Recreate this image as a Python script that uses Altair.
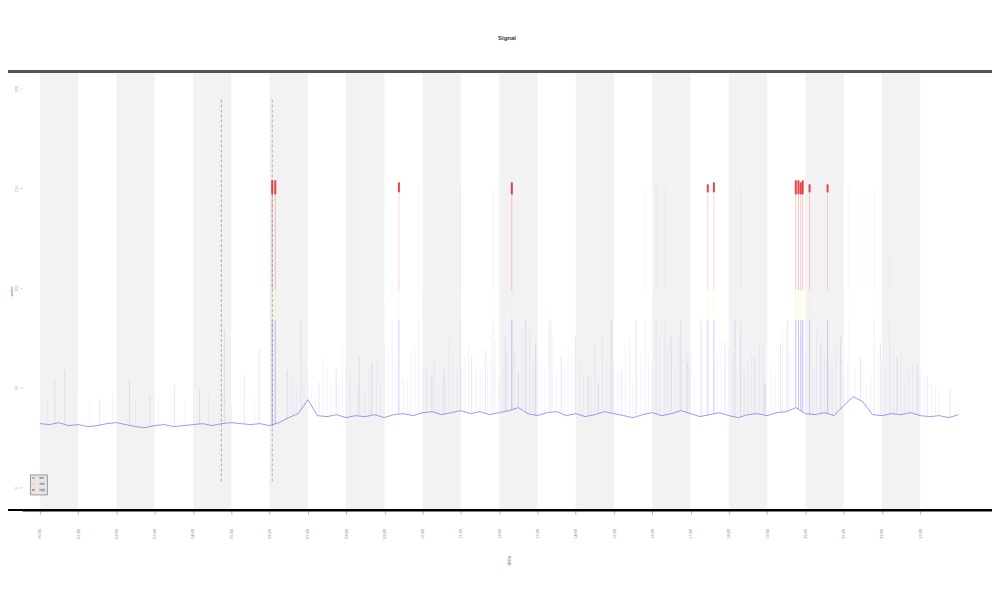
import altair as alt
import numpy as np
import pandas as pd

# ---- data ----
base_t = [i * 0.25 for i in range(97)]
base_v = [32.0, 31.5, 32.5, 31.0, 31.5, 30.5, 31.0, 32.0, 32.5, 31.5, 30.5, 30.0,
          31.0, 31.5, 30.5, 31.0, 31.5, 32.0, 31.0, 32.0, 32.5, 32.0, 31.5, 32.0,
          31.0, 32.5, 35.0, 37.0, 44.0, 36.0, 35.5, 36.5, 35.0, 36.0, 35.5, 36.5,
          35.0, 36.5, 37.0, 36.0, 37.5, 38.0, 36.5, 37.5, 38.5, 37.0, 38.0, 36.5,
          37.5, 38.5, 40.0, 37.0, 36.0, 37.5, 38.0, 36.0, 37.0, 35.5, 36.5, 38.0,
          37.0, 36.0, 35.0, 36.5, 37.5, 36.0, 37.0, 38.5, 37.0, 35.5, 36.5, 37.5,
          36.0, 35.0, 36.5, 37.0, 36.0, 37.5, 38.0, 40.0, 37.0, 36.5, 37.5, 36.0,
          41.0, 45.5, 43.0, 36.5, 36.0, 37.0, 36.5, 37.5, 36.0, 35.5, 36.0, 35.0,
          36.5]

spike_t = [0.39, 0.65, 1.56, 2.34, 2.87, 3.52, 4.17, 4.82, 5.34, 5.73,
           6.07, 6.15, 9.38, 12.33, 17.45, 17.61, 19.75, 19.82, 19.88, 19.93, 20.11, 20.58,
           9.90, 10.99, 11.85, 15.81, 16.10, 16.33, 18.31, 21.15, 21.80, 22.20,
           6.46, 6.82, 7.29, 7.74, 8.34, 8.67, 9.20, 10.24, 10.55, 11.28, 11.64, 12.16,
           12.50, 12.69, 12.95, 13.31, 13.36, 13.62, 13.99, 14.33, 14.59, 14.93, 15.19,
           15.58, 16.49, 16.75, 16.93, 17.27, 17.90, 18.16, 18.68, 18.94, 19.35, 19.54,
           20.40, 20.92, 21.44, 21.96, 22.40, 22.92, 23.18, 23.78]
spike_top = [54, 59, 44, 54, 46.5, 51.5, 49, 79, 56.5, 69,
             154, 154, 153, 153, 152, 153, 154, 154, 153, 154, 152, 152,
             152, 150, 150, 151, 152, 150, 150, 151, 150, 115,
             59, 89, 52.5, 59, 65.5, 62.5, 102.5, 55.5, 59, 65.5, 69, 75.5,
             57.5, 84, 72.5, 87.5, 92.5, 65.5, 75.5, 55.5, 52.5, 84, 59,
             84, 75.5, 84, 62.5, 87.5, 72.5, 84, 65.5, 52.5, 72.5, 84,
             72.5, 75.5, 65.5, 72.5, 65.5, 62.5, 55.5, 49]
spike_alpha = [0.3, 0.3, 0.3, 0.3, 0.3, 0.3, 0.3, 0.35, 0.3, 0.3,
               0.8, 0.8, 0.6, 0.8, 0.6, 0.6, 0.8, 0.8, 0.8, 0.8, 0.6, 0.6,
               0.25, 0.2, 0.2, 0.2, 0.2, 0.2, 0.2, 0.2, 0.2, 0.2,
               0.35, 0.25, 0.35, 0.35, 0.35, 0.35, 0.2, 0.35, 0.35, 0.35, 0.35, 0.35,
               0.45, 0.35, 0.35, 0.3, 0.25, 0.35, 0.35, 0.35, 0.4, 0.4, 0.35,
               0.35, 0.35, 0.35, 0.4, 0.35, 0.35, 0.35, 0.35, 0.4, 0.35, 0.35,
               0.35, 0.35, 0.35, 0.35, 0.35, 0.35, 0.35, 0.35]

cap_t = [6.07, 6.15, 9.38, 12.33, 17.45, 17.61, 19.75, 19.82, 19.88, 19.93, 20.11, 20.58]
cap_lo = [147, 147, 148, 147, 148, 148, 147, 147, 147, 147, 148, 148]
cap_hi = [154, 154, 153, 153, 152, 153, 154, 154, 153, 154, 152, 152]

haze_t = [6.6, 6.9, 7.1, 7.4, 7.6, 7.9, 8.1, 8.5, 8.8, 9.0, 9.5, 9.7, 10.1, 10.4,
          10.7, 10.9, 11.1, 11.4, 11.8, 12.0, 12.4, 12.8, 13.1, 13.5, 13.8, 14.1,
          14.4, 14.7, 15.0, 15.3, 15.5, 15.9, 16.2, 16.6, 16.9, 17.1, 17.4, 17.7,
          18.0, 18.4, 18.6, 18.8, 19.1, 19.4, 19.6, 19.9, 20.2, 20.5, 20.7, 21.0,
          21.3, 21.6, 21.9, 22.1, 22.3, 22.6, 22.8, 23.0, 23.3, 23.5,
          0.2, 0.9, 1.3, 1.9, 2.5, 3.1, 3.8, 4.4, 5.0, 5.6,
          6.7, 7.0, 7.2, 7.5, 7.8, 8.0, 8.3, 8.6, 8.9, 9.1, 9.3, 9.6, 9.8, 10.0,
          10.3, 10.6, 10.8, 11.0, 11.2, 11.5, 11.7, 11.9, 12.1, 12.2, 12.6, 12.9,
          13.0, 13.2, 13.4, 13.7, 13.9, 14.2, 14.5, 14.8, 15.1, 15.4, 15.7, 16.0,
          16.4, 16.7, 17.0, 17.3, 17.6, 17.8, 18.1, 18.3, 18.5, 18.9, 19.2, 19.5,
          19.7, 20.0, 20.3, 20.6, 20.8, 21.1, 21.7, 22.0, 22.5, 22.7, 23.1, 23.4]
haze_top = [55, 62, 48, 66, 52, 70, 58, 49, 63, 71, 55, 67, 60, 52, 74, 58, 66, 61,
            78, 55, 69, 81, 63, 58, 72, 64, 57, 77, 62, 70, 53, 66, 75, 60, 68, 57,
            79, 64, 70, 58, 66, 73, 61, 80, 69, 76, 58, 66, 62, 55, 60, 52, 66, 58,
            70, 54, 63, 58, 52, 49,
            44, 46, 42, 47, 43, 45, 44, 46, 42, 45,
            50, 57, 46, 60, 54, 63, 49, 58, 52, 67, 61, 54, 70, 58,
            64, 53, 68, 60, 72, 57, 66, 74, 60, 68, 79, 62,
            70, 58, 76, 61, 69, 55, 73, 64, 59, 75, 68, 62,
            71, 77, 66, 82, 60, 74, 67, 78, 63, 72, 58, 81,
            75, 68, 79, 64, 70, 62, 57, 63, 68, 59, 55, 50]

event_t = [4.74, 6.07]
event_lo = [3, 3]
event_hi = [195, 195]

band_start = [0, 2, 4, 6, 8, 10, 12, 14, 16, 18, 20, 22]
band_end = [1, 3, 5, 7, 9, 11, 13, 15, 17, 19, 21, 23]

tick_vals = list(range(24))
y_ticks = [0, 50, 100, 150, 200]

LOW, MID = 84, 99

# ---- tables ----
base_df = pd.DataFrame({"t": base_t, "v": base_v})
bands_df = pd.DataFrame({"t0": band_start, "t1": band_end})

rows = []
for t, top, a in zip(spike_t + haze_t, spike_top + haze_top,
                     spike_alpha + [0.16] * len(haze_t)):
    b = float(np.interp(t, base_t, base_v))
    rows.append({"t": t, "y0": b, "y1": min(top, LOW), "level": "low", "a": a})
    if top > LOW:
        rows.append({"t": t, "y0": LOW, "y1": min(top, MID), "level": "mid", "a": a * 0.45})
    if top > MID:
        rows.append({"t": t, "y0": MID, "y1": top, "level": "high", "a": a * 0.55})
seg_df = pd.DataFrame(rows)
cap_df = pd.DataFrame({"t": cap_t, "y0": cap_lo, "y1": cap_hi, "level": ["high"] * len(cap_t)})
event_df = pd.DataFrame({"t": event_t, "y0": event_lo, "y1": event_hi})

W, H = 973, 440
xs = alt.Scale(domain=[-0.469, 24.876], nice=False, zero=False)
ys = alt.Scale(domain=[-11.5, 208.5], nice=False, zero=False)
cscale = alt.Scale(domain=["low", "mid", "high"], range=["#7f7fff", "#f2e35a", "#e8262b"])

x_axis = alt.Axis(values=tick_vals, labelAngle=-90, labelFontSize=4, labelColor="#888",
                  labelPadding=14, tickSize=4, tickColor="#bbb", domainColor="#000",
                  domainWidth=1.5, grid=False, title="time", titleFontSize=5,
                  titleColor="#999", titleAngle=-90, titlePadding=22,
                  labelExpr="pad(toString(datum.value), 2, '0', 'left') + ':00'")
y_axis = alt.Axis(values=y_ticks, labelAngle=-90, labelFontSize=4, labelColor="#aaa",
                  tickSize=2, tickColor="#ccc", domain=False, grid=False, title="value",
                  titleFontSize=4, titleColor="#999", titlePadding=1, labelPadding=1)

bands = alt.Chart(bands_df).mark_rect(color="#f2f2f2").encode(
    x=alt.X("t0:Q", scale=xs, axis=x_axis), x2="t1:Q",
    y=alt.value(0), y2=alt.value(H))

segs = alt.Chart(seg_df).mark_rule(strokeWidth=0.6).encode(
    x=alt.X("t:Q", scale=xs),
    y=alt.Y("y0:Q", scale=ys, axis=y_axis), y2="y1:Q",
    color=alt.Color("level:N", scale=cscale,
                    legend=alt.Legend(orient="none", legendX=8, legendY=404, title=None,
                                      labelFontSize=3, symbolSize=6, rowPadding=0,
                                      padding=1.5, fillColor="#e6e6e6", strokeColor="#999",
                                      symbolType="stroke", labelColor="#444")),
    opacity=alt.Opacity("a:Q", scale=None))

caps = alt.Chart(cap_df).mark_rule(strokeWidth=2.0, opacity=0.85).encode(
    x=alt.X("t:Q", scale=xs), y=alt.Y("y0:Q", scale=ys), y2="y1:Q",
    color=alt.Color("level:N", scale=cscale))

events = alt.Chart(event_df).mark_rule(strokeWidth=0.9, color="#555", opacity=0.5,
                                       strokeDash=[3, 2]).encode(
    x=alt.X("t:Q", scale=xs), y=alt.Y("y0:Q", scale=ys), y2="y1:Q")

line = alt.Chart(base_df).mark_line(color="#6464ea", strokeWidth=0.8, opacity=0.8).encode(
    x=alt.X("t:Q", scale=xs), y=alt.Y("v:Q", scale=ys))

top_rule = alt.Chart(base_df).mark_rule(color="#555", strokeWidth=2).encode(
    x=alt.value(-19), x2=alt.value(W + 5), y=alt.value(0))
bottom_rule = alt.Chart(base_df).mark_rule(color="#000", strokeWidth=1.5).encode(
    x=alt.value(-19), x2=alt.value(W + 5), y=alt.value(H))

chart = alt.layer(bands, segs, caps, events, line, top_rule, bottom_rule).properties(
    width=W, height=H,
    title=alt.TitleParams("Signal", fontSize=6, fontWeight="bold", color="#333",
                          offset=30, anchor="middle"),
    autosize=alt.AutoSizeParams(type="none"),
    padding={"left": 14, "top": 63, "right": 0, "bottom": 80},
).configure_view(stroke=None)

chart.save("out.html", embed_options={"renderer": "svg", "actions": False})
